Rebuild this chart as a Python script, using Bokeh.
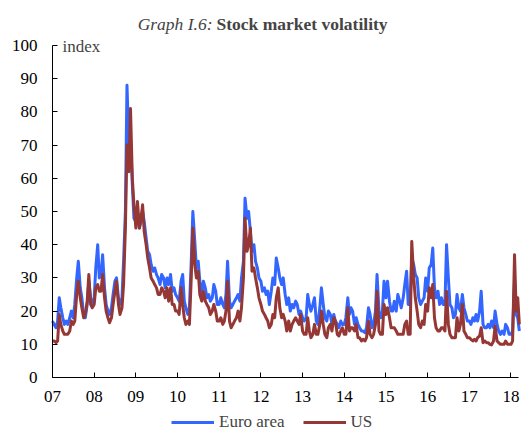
import pandas as pd
from bokeh.plotting import figure
from bokeh.models import Range1d, FixedTicker, Label, Legend, LegendItem, ColumnDataSource
from bokeh.embed import file_html
from bokeh.resources import INLINE

# ---- data (semi-monthly readings, 1st and 15th of each month) ----
start_date = "2007-01-01"
end_date = "2018-03-16"

euro_area = [
    17, 16, 15, 17, 24, 21, 18, 16, 17, 16, 18, 20, 18, 22, 30, 35, 27, 24, 19, 18, 22, 29, 24, 22,  # 2007
    24, 33, 40, 30, 31, 37, 27, 22, 20, 19, 21, 25, 29, 30, 24, 22, 24, 35, 50, 88, 70, 72, 58, 48,  # 2008
    47, 50, 45, 47, 50, 47, 42, 38, 37, 34, 32, 33, 31, 30, 28, 31, 30, 27, 30, 28, 31, 26, 27, 25,  # 2009
    24, 23, 29, 31, 23, 21, 19, 21, 35, 50, 41, 33, 35, 29, 25, 29, 27, 24, 25, 23, 24, 28, 26, 22,  # 2010
    22, 24, 22, 21, 25, 35, 23, 21, 22, 23, 24, 25, 23, 30, 35, 54, 48, 50, 44, 38, 40, 35, 33, 30,  # 2011
    29, 26, 27, 25, 26, 22, 26, 30, 28, 36, 33, 30, 28, 30, 25, 22, 24, 20, 22, 21, 23, 22, 19, 20,  # 2012
    18, 17, 18, 25, 22, 20, 22, 24, 17, 16, 21, 27, 22, 18, 17, 20, 19, 16, 19, 17, 16, 15, 17, 16,  # 2013
    16, 18, 24, 19, 21, 20, 16, 18, 16, 15, 14, 14, 13.5, 15, 21, 19, 15, 16, 20, 31, 20, 18, 20, 29,  # 2014
    24, 29, 23, 20, 20, 23, 20, 25, 23, 21, 24, 28, 32, 22, 22, 36, 34, 31, 30, 24, 22, 23, 24, 30,  # 2015
    26, 33, 34, 39, 27, 24, 26, 22, 24, 22, 22, 40, 30, 22, 21, 18, 19, 25, 21, 20, 25, 21, 19, 17,  # 2016
    17, 16, 18, 17, 19, 17, 20, 26, 16, 15, 15, 16, 15, 17, 15, 20, 16, 14, 13, 14, 13, 16, 15, 13,  # 2017
    13, 14, 29, 19, 18, 14,  # 2018
]

us = [
    11, 11, 10.5, 11, 19, 16, 14, 13, 13, 13, 14, 17, 16, 17, 25, 29, 24, 21, 18, 19, 23, 31, 22, 21,  # 2007
    22, 27, 28, 26, 26, 31, 24, 20, 18, 16.5, 18, 22, 26, 29, 22, 19, 21, 28, 45, 70, 62, 81, 60, 52,  # 2008
    45, 53, 45, 48, 52, 44, 40, 36, 33, 30, 29, 28, 27, 25, 25, 27, 26, 24, 27, 23, 27, 22, 22, 20,  # 2009
    20, 19, 27, 22, 18, 16, 17, 16, 30, 45, 34, 30, 32, 25, 23, 26, 23, 22, 21, 19, 20, 22, 20, 17,  # 2010
    17, 18, 16, 17, 20, 29, 17, 15, 16, 17, 18, 20, 17, 21, 30, 48, 38, 40, 45, 32, 33, 30, 27, 24,  # 2011
    22, 20, 19, 18, 17, 15, 16, 19, 18, 24, 27, 21, 18, 19, 17, 14, 17, 14, 16, 17, 18, 17, 16, 19,  # 2012
    14, 13, 13, 18, 14, 12, 13, 16, 13, 13, 16, 20, 16, 13, 12, 15, 16, 14, 18, 17, 13, 12.5, 14, 15,  # 2013
    13, 13, 21, 14, 15, 15, 14, 16, 12, 12, 11, 11.5, 11, 12, 17, 13, 12, 13, 16, 26, 14, 13, 13, 22,  # 2014
    19, 21, 18, 15, 15, 15, 14, 13, 13, 13, 13, 16, 17, 13, 13, 41, 30, 24, 20, 16, 15, 17, 16, 22,  # 2015
    20, 27, 24, 28, 18, 15, 14, 14, 15, 15, 14, 26, 16, 13, 12, 12, 12, 18, 14, 16, 22, 14, 13, 12,  # 2016
    12, 11.5, 11, 11.5, 11, 12, 12.5, 15, 10.5, 11, 10.5, 10.5, 10, 9.8, 11, 15.5, 11, 10.5, 10, 10, 10, 11, 10, 10,  # 2017
    10, 11, 37, 20, 24, 16,  # 2018
]

year_ticks = [2007, 2008, 2009, 2010, 2011, 2012, 2013, 2014, 2015, 2016, 2017, 2018]
year_labels = ["07", "08", "09", "10", "11", "12", "13", "14", "15", "16", "17", "18"]
y_ticks = [0, 10, 20, 30, 40, 50, 60, 70, 80, 90, 100]

# ---- build ----
dates = pd.date_range(start_date, end_date, freq="SMS")
n = min(len(dates), len(euro_area), len(us))
dates = dates[:n]
xdec = [d.year + (d.dayofyear - 1) / (366 if d.is_leap_year else 365) for d in dates]

src = ColumnDataSource(dict(x=xdec, ea=euro_area[:n], us=us[:n]))

FONT = "Liberation Serif"
BLUE = "#3366FF"
RED = "#953735"

W, H = 523, 432
X0_PX, XEND_PX = 52, 518     # pixel columns of 2007 and of the axis end
Y0_PX, Y100_PX = 377, 45     # pixel rows of values 0 and 100
X_END = 2018.18

px_per_unit = (Y0_PX - Y100_PX) / 100.0
y_top = Y0_PX / px_per_unit              # value at canvas top
y_bot = -(H - Y0_PX) / px_per_unit       # value at canvas bottom
px_per_year = (XEND_PX - X0_PX) / (X_END - 2007)
x_left = 2007 - X0_PX / px_per_year
x_right = 2007 + (W - X0_PX) / px_per_year

p = figure(width=W, height=H, output_backend="svg", toolbar_location=None,
           x_range=Range1d(x_left, x_right), y_range=Range1d(y_bot, y_top),
           min_border_left=0, min_border_right=0, min_border_top=0, min_border_bottom=0)
p.outline_line_color = None
p.grid.visible = False
p.background_fill_color = "white"

r_ea = p.line("x", "ea", source=src, line_color=BLUE, line_width=3, line_join="round")
r_us = p.line("x", "us", source=src, line_color=RED, line_width=3, line_join="round")

p.xaxis.ticker = FixedTicker(ticks=year_ticks)
p.xaxis.major_label_overrides = {t: l for t, l in zip(year_ticks, year_labels)}
p.xaxis.fixed_location = 0
p.xaxis.bounds = (2007, X_END)
p.yaxis.ticker = FixedTicker(ticks=y_ticks)
p.yaxis.fixed_location = 2007
p.yaxis.bounds = (0, 100)
for ax in (p.xaxis[0], p.yaxis[0]):
    ax.axis_line_color = "black"
    ax.axis_line_width = 1
    ax.major_tick_line_color = "black"
    ax.major_tick_in = 5
    ax.major_tick_out = 0
    ax.minor_tick_line_color = None
    ax.major_label_text_font = FONT
    ax.major_label_text_font_size = "17px"
    ax.major_label_text_color = "black"
p.xaxis.major_label_standoff = 13
p.yaxis.major_label_standoff = 15


def xd(px):
    return 2007 + (px - X0_PX) / px_per_year


def yd(py):
    return (Y0_PX - py) / px_per_unit


p.add_layout(Label(x=xd(212), y=yd(23), text="Graph I.6:", text_font=FONT, text_font_size="17.5px",
                   text_font_style="italic", text_align="right", text_baseline="middle"))
p.add_layout(Label(x=xd(216), y=yd(23), text="Stock market volatility", text_font=FONT,
                   text_font_size="17.5px", text_font_style="bold", text_align="left",
                   text_baseline="middle"))
p.add_layout(Label(x=xd(62), y=yd(46), text="index", text_font=FONT, text_font_size="17px",
                   text_align="left", text_baseline="middle"))

legend = Legend(items=[LegendItem(label="Euro area", renderers=[r_ea]),
                       LegendItem(label="US", renderers=[r_us])],
                orientation="horizontal", location=(171, 0),
                label_text_font=FONT, label_text_font_size="17px",
                glyph_width=43, glyph_height=18, label_height=18, label_standoff=5,
                spacing=18, padding=0, margin=0, border_line_color=None,
                background_fill_alpha=0)
p.add_layout(legend)

open("out.html", "w").write(file_html(p, INLINE))
